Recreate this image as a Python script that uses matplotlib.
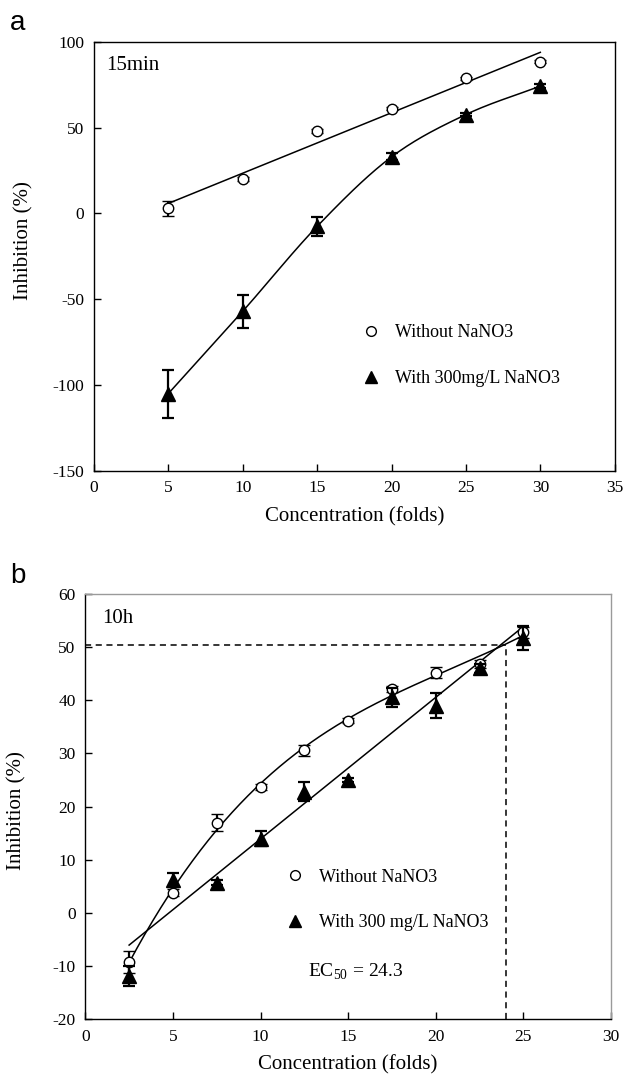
import numpy as np
import matplotlib
matplotlib.use("Agg")
import matplotlib.pyplot as plt
from matplotlib.lines import Line2D

plt.rcParams['font.family'] = ['Liberation Serif', 'DejaVu Serif']
plt.rcParams['mathtext.fontset'] = 'custom'
plt.rcParams['mathtext.rm'] = 'Liberation Serif'

# ---------------- data: panel a (15 min) ----------------
conc_a = [5, 10, 15, 20, 25, 30]
without_a = [3.1, 20.0, 48.0, 61.2, 78.8, 88.5]
without_a_err = [4.3, 1.0, 1.0, 1.0, 1.0, 1.0]
with_a = [-105.0, -57.0, -7.5, 33.0, 57.7, 74.3]
with_a_err = [14.0, 9.5, 5.7, 2.0, 1.0, 1.0]

# ---------------- data: panel b (10 h) ----------------
conc_b = [2.5, 5, 7.5, 10, 12.5, 15, 17.5, 20, 22.5, 25]
without_b = [-9.2, 3.8, 17.0, 23.7, 30.6, 36.2, 42.1, 45.2, 46.8, 52.8]
without_b_err = [2.0, 0.7, 1.6, 0.5, 1.0, 0.5, 0.6, 1.0, 0.8, 1.0]
with_b = [-11.8, 6.2, 5.7, 14.0, 22.8, 25.0, 40.6, 39.0, 46.0, 51.7]
with_b_err = [1.9, 1.3, 0.5, 1.4, 1.8, 0.4, 1.8, 2.4, 0.8, 2.3]
ec50 = 24.0
ec50_level = 50.4

xticks_a = [0, 5, 10, 15, 20, 25, 30, 35]
yticks_a = [-150, -100, -50, 0, 50, 100]
xticks_b = [0, 5, 10, 15, 20, 25, 30]
yticks_b = [-20, -10, 0, 10, 20, 30, 40, 50, 60]


def catmull_rom(x, y, n=30):
    x = np.asarray(x, float)
    y = np.asarray(y, float)
    px = np.concatenate([[2 * x[0] - x[1]], x, [2 * x[-1] - x[-2]]])
    py = np.concatenate([[2 * y[0] - y[1]], y, [2 * y[-1] - y[-2]]])
    xs, ys = [], []
    t = np.linspace(0, 1, n)
    for i in range(1, len(px) - 2):
        p0, p1, p2, p3 = [np.array([px[j], py[j]]) for j in range(i - 1, i + 3)]
        pts = 0.5 * ((2 * p1)[None, :] + (-p0 + p2)[None, :] * t[:, None]
                     + (2 * p0 - 5 * p1 + 4 * p2 - p3)[None, :] * t[:, None] ** 2
                     + (-p0 + 3 * p1 - 3 * p2 + p3)[None, :] * t[:, None] ** 3)
        xs.append(pts[:, 0])
        ys.append(pts[:, 1])
    return np.concatenate(xs), np.concatenate(ys)


fig = plt.figure(figsize=(6.24, 10.75), dpi=100)
W, H = 624, 1075

def px_axes(l, r, t, b):
    return fig.add_axes([l / W, 1 - b / H, (r - l) / W, (b - t) / H])

ax_a = px_axes(94, 614.7, 42, 470.7)
ax_b = px_axes(85.3, 611, 594, 1019.3)

circ_kw = dict(marker='o', ms=7.5, mfc='white', mec='black', mew=1.0, ls='none')
tri_kw = dict(marker='^', ms=9.5, mfc='black', mec='black', ls='none')
eb_kw = dict(ecolor='black', elinewidth=1.6, capsize=4.3, capthick=1.6)

h1 = Line2D([], [], marker='o', ms=7, mfc='white', mec='black', ls='none')
h2 = Line2D([], [], marker='^', ms=9, mfc='black', mec='black', ls='none')

# ---------- panel a ----------
ax = ax_a
coef = np.polyfit(conc_a, without_a, 1)
xl = np.array([conc_a[0], conc_a[-1]])
ax.plot(xl, np.polyval(coef, xl), color='black', lw=1.1, zorder=2)
sx, sy = catmull_rom(conc_a, with_a)
ax.plot(sx, sy, color='black', lw=1.1, zorder=2)
ax.errorbar(conc_a, without_a, yerr=without_a_err, zorder=3, **circ_kw, **eb_kw)
ax.errorbar(conc_a, with_a, yerr=with_a_err, zorder=4, **tri_kw, **eb_kw)
ax.set_xlim(0, 35)
ax.set_ylim(-150, 100)
ax.set_xticks(xticks_a)
ax.set_yticks(yticks_a)
ax.set_yticklabels([str(v) for v in yticks_a])
ax.text(0.83, 86.5, '15min', fontsize=15, va='center', ha='left')
ax.set_xlabel('Concentration (folds)', fontsize=15)
ax.set_ylabel('Inhibition (%)', fontsize=15)
ax.xaxis.set_label_coords(0.5, -0.085)
ax.yaxis.set_label_coords(-0.117, 0.536)
ax.legend([h1, h2], ['Without NaNO3', 'With 300mg/L NaNO3'], frameon=False,
          fontsize=13, loc='center left', bbox_to_anchor=(0.515, 0.269),
          handlelength=1.0, handletextpad=0.8, labelspacing=1.6, borderpad=0,
          borderaxespad=0)
fig.text(10 / W, 1 - 23 / H, 'a', fontsize=20, family='Liberation Sans', va='center', ha='left')

# ---------- panel b ----------
ax = ax_b
coef_b = np.polyfit(conc_b, with_b, 1)
xl = np.array([conc_b[0], conc_b[-1]])
ax.plot(xl, np.polyval(coef_b, xl), color='black', lw=1.1, zorder=2)
coef_c = np.polyfit(conc_b, without_b, 3)
xc = np.linspace(conc_b[0], conc_b[-1], 200)
ax.plot(xc, np.polyval(coef_c, xc), color='black', lw=1.1, zorder=2)
ax.errorbar(conc_b, without_b, yerr=without_b_err, zorder=3, **circ_kw, **eb_kw)
ax.errorbar(conc_b, with_b, yerr=with_b_err, zorder=4, **tri_kw, **eb_kw)
ax.plot([0, ec50], [ec50_level, ec50_level], color='black', lw=1.1, ls=(0, (4, 3)), zorder=1)
ax.plot([ec50, ec50], [-20, ec50_level], color='black', lw=1.1, ls=(0, (4, 3)), zorder=1)
ax.set_xlim(0, 30)
ax.set_ylim(-20, 60)
ax.set_xticks(xticks_b)
ax.set_yticks(yticks_b)
ax.set_yticklabels([str(v) for v in yticks_b])
ax.text(0.94, 55.3, '10h', fontsize=15, va='center', ha='left')
ax.text(12.7, -11, r'EC$_{50}$ = 24.3', fontsize=14, va='center', ha='left')
ax.set_xlabel('Concentration (folds)', fontsize=15)
ax.set_ylabel('Inhibition (%)', fontsize=15)
ax.xaxis.set_label_coords(0.5, -0.084)
ax.yaxis.set_label_coords(-0.111, 0.49)
ax.legend([h1, h2], ['Without NaNO3', 'With 300 mg/L NaNO3'], frameon=False,
          fontsize=13, loc='center left', bbox_to_anchor=(0.382, 0.2805),
          handlelength=1.0, handletextpad=0.8, labelspacing=1.6, borderpad=0,
          borderaxespad=0)
ax.spines['top'].set_color('#9a9a9a')
ax.spines['right'].set_color('#9a9a9a')
fig.text(10 / W, 1 - 576 / H, 'b', fontsize=20, family='Liberation Sans', va='center', ha='left')

for ax in (ax_a, ax_b):
    ax.tick_params(direction='in', length=5, width=1, labelsize=12.5, pad=7)
    for s in ax.spines.values():
        s.set_linewidth(1.0)

fig.savefig('out.png', dpi=100)
